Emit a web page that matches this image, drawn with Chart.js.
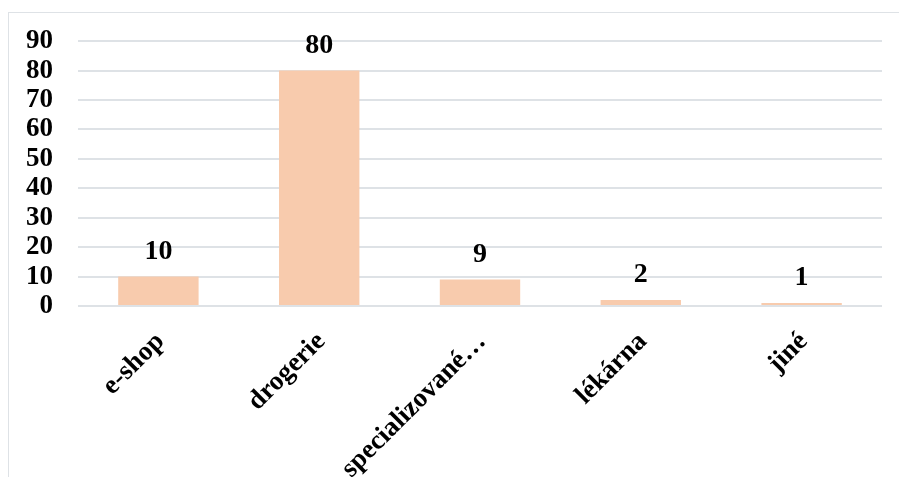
<!DOCTYPE html>
<html>
<head>
<meta charset="utf-8">
<script src="https://cdn.jsdelivr.net/npm/chart.js@4"></script>
<style>
  html, body { margin: 0; padding: 0; background: #fff; }
  #wrap { position: relative; width: 899px; height: 477px; }
</style>
</head>
<body>
<div id="wrap"><canvas id="barChart" width="899" height="477"></canvas></div>
<script>
// categories and values
var categories = ["e-shop", "drogerie", "specializované…", "lékárna", "jiné"];
var values = [10, 80, 9, 2, 1];
var yTicks = [0, 10, 20, 30, 40, 50, 60, 70, 80, 90];

var fontFamily = "'Liberation Serif', 'Times New Roman', serif";

// value labels above bars + light frame around the chart
var extras = {
  id: 'extras',
  beforeDraw: function(chart) {
    var c = chart.ctx;
    c.save();
    c.strokeStyle = '#DEE2E6';
    c.lineWidth = 1;
    c.strokeRect(8.5, 12.5, 1000, 1000);
    c.restore();
  },
  afterDatasetsDraw: function(chart) {
    var c = chart.ctx;
    var meta = chart.getDatasetMeta(0);
    c.save();
    c.font = 'bold 28px ' + fontFamily;
    c.fillStyle = '#000';
    c.textAlign = 'center';
    c.textBaseline = 'alphabetic';
    meta.data.forEach(function(bar, i) {
      c.fillText(values[i], bar.x, bar.y - 18);
    });
    c.restore();
  }
};

var ctxB = document.getElementById("barChart").getContext('2d');
var myBarChart = new Chart(ctxB, {
  type: 'bar',
  data: {
    labels: categories,
    datasets: [{
      data: values,
      backgroundColor: '#F8CBAD',
      borderWidth: 0,
      barPercentage: 0.5,
      categoryPercentage: 1
    }]
  },
  options: {
    responsive: false,
    animation: false,
    layout: { padding: { left: 24, right: 17, top: 30, bottom: 0 } },
    plugins: { legend: { display: false }, tooltip: { enabled: false } },
    scales: {
      x: {
        grid: { display: false },
        border: { display: false },
        afterFit: function(axis) {
          // rotated labels may hang outside the plot, keep plot width as in the picture
          axis.paddingLeft = 0;
          axis.paddingRight = 0;
          axis.height = 171;
        },
        ticks: {
          color: '#000',
          font: { family: fontFamily, size: 27, weight: 'bold' },
          minRotation: 45,
          maxRotation: 45,
          labelOffset: 2,
          padding: 12
        }
      },
      y: {
        min: 0,
        max: 90,
        afterBuildTicks: function(axis) {
          axis.ticks = yTicks.map(function(v) { return { value: v }; });
        },
        afterFit: function(axis) {
          axis.width = 54;
        },
        grid: { color: '#DEE2E6', lineWidth: 2, drawTicks: false },
        border: { display: false },
        ticks: {
          autoSkip: false,
          color: '#000',
          padding: 25,
          font: { family: fontFamily, size: 27, weight: 'bold' }
        }
      }
    }
  },
  plugins: [extras]
});
</script>
</body>
</html>
